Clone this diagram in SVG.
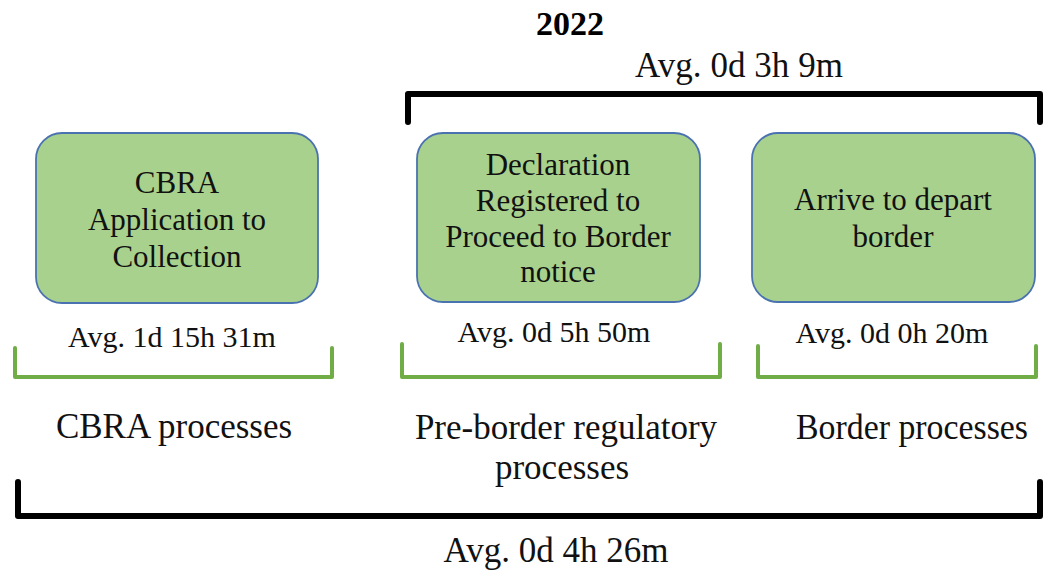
<svg xmlns="http://www.w3.org/2000/svg" width="1043" height="571" viewBox="0 0 1043 571">
  <style>
    .box { fill: #a9d18e; stroke: #4a72b0; stroke-width: 1.8; }
    .t { font-family: "Liberation Serif", "Times New Roman", serif; font-size: 31px; fill: #111; text-anchor: middle; }
    .a { font-family: "Liberation Serif", "Times New Roman", serif; font-size: 30px; fill: #111; text-anchor: middle; }
    .lbl { font-family: "Liberation Serif", "Times New Roman", serif; font-size: 35px; fill: #111; text-anchor: middle; }
    .title { font-family: "Liberation Serif", "Times New Roman", serif; font-size: 34px; font-weight: bold; fill: #000; text-anchor: middle; }
    .gb { fill: none; stroke: #70ad47; stroke-width: 4; stroke-linejoin: round; stroke-linecap: round; }
    .bb { fill: none; stroke: #000; stroke-width: 6; stroke-linejoin: round; stroke-linecap: round; }
  </style>
  <rect width="1043" height="571" fill="#fff"/>

  <text class="title" x="570" y="35">2022</text>
  <text class="lbl" x="739" y="77" font-size="33" textLength="208" lengthAdjust="spacing">Avg. 0d 3h 9m</text>

  <g id="brackets">
    <path class="bb" d="M408,122 L408,94 L1040,94 L1040,122"/>
    <path class="gb" d="M15,348 L15,377 L332,377 L332,348"/>
    <path class="gb" d="M402,344 L402,377 L720,377 L720,344"/>
    <path class="gb" d="M758,346 L758,377 L1036,377 L1036,346"/>
    <path class="bb" d="M18,482 L18,516 L1040,516 L1040,482"/>
  </g>

  <g id="node-cbra">
    <rect class="box" x="36" y="133" width="282" height="170" rx="26"/>
    <text class="t" x="177" y="193">CBRA</text>
    <text class="t" x="177" y="230">Application to</text>
    <text class="t" x="177" y="267">Collection</text>
    <text class="a" x="172" y="347">Avg. 1d 15h 31m</text>
  </g>

  <g id="node-declaration">
    <rect class="box" x="417" y="133" width="283" height="169" rx="26"/>
    <text class="t" x="558" y="175">Declaration</text>
    <text class="t" x="558" y="211">Registered to</text>
    <text class="t" x="558" y="247">Proceed to Border</text>
    <text class="t" x="558" y="282">notice</text>
    <text class="a" x="554" y="342">Avg. 0d 5h 50m</text>
  </g>

  <g id="node-border">
    <rect class="box" x="752" y="133" width="283" height="169" rx="26"/>
    <text class="t" x="893" y="210">Arrive to depart</text>
    <text class="t" x="893" y="247">border</text>
    <text class="a" x="892" y="343">Avg. 0d 0h 20m</text>
  </g>

  <text class="lbl" x="174" y="438">CBRA processes</text>
  <text class="lbl" x="566" y="439">Pre-border  regulatory</text>
  <text class="lbl" x="562" y="479">processes</text>
  <text class="lbl" x="912" y="439" textLength="232" lengthAdjust="spacingAndGlyphs">Border processes</text>
  <text class="lbl" x="556" y="562" font-size="33" textLength="225" lengthAdjust="spacing">Avg. 0d 4h 26m</text>
</svg>
